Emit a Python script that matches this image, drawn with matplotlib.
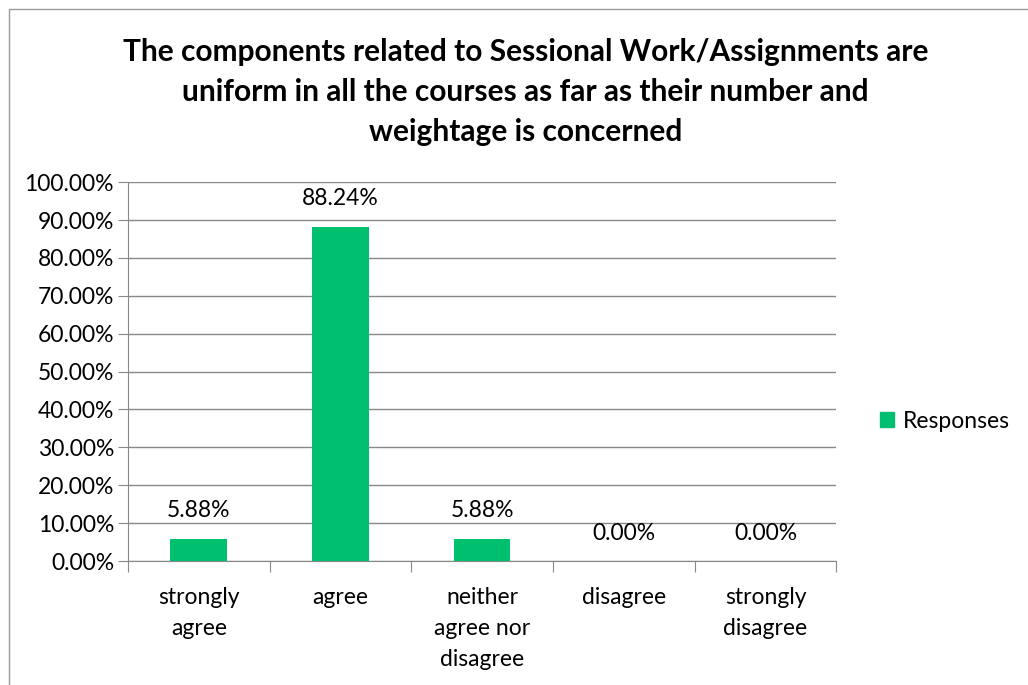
import matplotlib

matplotlib.use("Agg")
import matplotlib.pyplot as plt
import matplotlib.patches as mpatches
from matplotlib.ticker import FuncFormatter, MultipleLocator

plt.rcParams["font.family"] = ["Lato", "DejaVu Sans"]

# data
categories = ["strongly\nagree", "agree", "neither\nagree nor\ndisagree",
              "disagree", "strongly\ndisagree"]
responses = [5.88, 88.24, 5.88, 0.00, 0.00]
series_name = "Responses"
title = ("The components related to Sessional Work/Assignments are\n"
         "uniform in all the courses as far as their number and\n"
         "weightage is concerned")

bar_color = "#00BF6F"
grid_color = "#888888"
fs = 16.5

fig = plt.figure(figsize=(10.28, 6.85), dpi=100)
ax = fig.add_axes([0.1245, 0.181, 0.689, 0.553])

x = range(len(categories))
bars = ax.bar(x, responses, width=0.4, color=bar_color, zorder=3)

ax.set_xlim(-0.5, len(categories) - 0.5)
ax.set_ylim(0, 100)
ax.yaxis.set_major_locator(MultipleLocator(10))
ax.yaxis.set_major_formatter(FuncFormatter(lambda v, _: f"{v:.2f}%"))
ax.grid(axis="y", color=grid_color, linewidth=1, zorder=0)

for side in ("top", "right"):
    ax.spines[side].set_visible(False)
for side in ("left", "bottom"):
    ax.spines[side].set_color(grid_color)

# category boundaries carry the x ticks, labels sit at bar centres
ax.set_xticks([i - 0.5 for i in range(len(categories) + 1)])
ax.set_xticklabels([])
ax.set_xticks(list(x), minor=True)
ax.set_xticklabels(categories, minor=True, fontsize=fs, linespacing=1.57,
                   va="top")
ax.tick_params(axis="x", which="major", length=8, color=grid_color)
ax.tick_params(axis="x", which="minor", length=0, pad=19)
ax.tick_params(axis="y", length=7, color=grid_color, labelsize=fs, pad=3)

for b, v in zip(bars, responses):
    ax.annotate(f"{v:.2f}%", (b.get_x() + b.get_width() / 2, v),
                xytext=(0, 20), textcoords="offset points",
                ha="center", va="center", fontsize=fs)

fig.text(0.511, 0.866, title, ha="center", va="center", fontsize=21.5,
         fontweight="bold", linespacing=1.52)

handle = mpatches.Patch(color=bar_color, label=series_name)
fig.legend(handles=[handle], loc="center left", bbox_to_anchor=(0.836, 0.385),
           frameon=False, fontsize=fs, handlelength=0.6, handleheight=0.6,
           handletextpad=0.4)

# outer chart border (only left/top visible in the crop)
fig.patches.append(mpatches.Rectangle((9 / 1028, -0.1), 1.2, 1 - 9 / 685 + 0.1,
                                      transform=fig.transFigure, fill=False,
                                      edgecolor="#999999", linewidth=1))

fig.savefig("out.png", dpi=100)
